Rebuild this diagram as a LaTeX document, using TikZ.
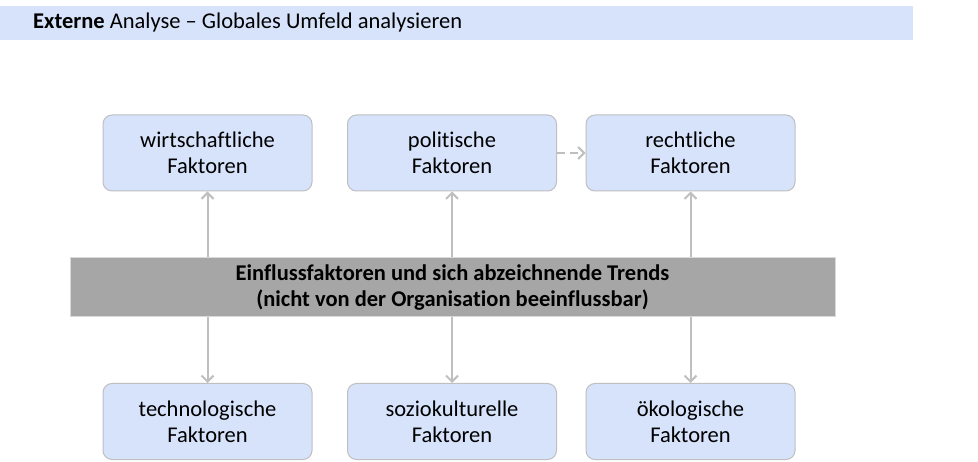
\documentclass[tikz,border=0pt]{standalone}
\usepackage{fontspec}
\setmainfont{Carlito}[Ligatures=NoCommon]
\usetikzlibrary{arrows.meta,positioning}
\definecolor{boxblue}{HTML}{D6E3FB}
\definecolor{boxline}{HTML}{BFBFBF}
\definecolor{bargray}{HTML}{A6A6A6}
\begin{document}
\begin{tikzpicture}[x=1pt, y=-1pt,
font=\fontsize{22.5}{26}\selectfont,
>={Straight Barb[length=6pt,width=12pt]},
factor/.style={rounded corners=9pt, fill=boxblue, draw=boxline, line width=1pt, minimum width=209pt, minimum height=76pt, align={center}},
trend/.style={fill=bargray, draw=boxline!60, line width=1pt, minimum width=765pt, minimum height=59pt, align={center}, font=\fontsize{22.5}{26}\selectfont\bfseries},
link/.style={draw=boxline, line width=2pt}
]
\useasboundingbox (0,0) rectangle (978,462);
% title band
\node[fill=boxblue, minimum width=913pt, minimum height=34pt, inner sep=0pt, anchor=north west] (header) at (0,6) {};
\node[inner sep=0pt, anchor=west] (title) at (33,23) {\textbf{Externe} Analyse -- Globales Umfeld analysieren};
\node[trend] (trends) at (452.5,287.5) {
    Einflussfaktoren und sich abzeichnende Trends\\
    (nicht von der Organisation beeinflussbar)
};
\node[factor] (wirtschaft) at (207.5,153) {wirtschaftliche\\Faktoren};
\node[factor] (politik) at (452,153) {politische\\Faktoren};
\node[factor] (recht) at (690.5,153) {rechtliche\\Faktoren};
\node[factor] (technik) at (207.5,421.5) {technologische\\Faktoren};
\node[factor] (sozio) at (452,421.5) {soziokulturelle\\Faktoren};
\node[factor] (oeko) at (690.5,421.5) {ökologische\\Faktoren};
\draw[link,->] (trends.north -| wirtschaft) -- (wirtschaft);
\draw[link,->] (trends.north -| politik) -- (politik);
\draw[link,->] (trends.north -| recht) -- (recht);
\draw[link,->] (trends.south -| technik) -- (technik);
\draw[link,->] (trends.south -| sozio) -- (sozio);
\draw[link,->] (trends.south -| oeko) -- (oeko);
\draw[link,->,dash pattern=on 8pt off 5pt] (politik) -- (recht);
\end{tikzpicture}
\end{document}
